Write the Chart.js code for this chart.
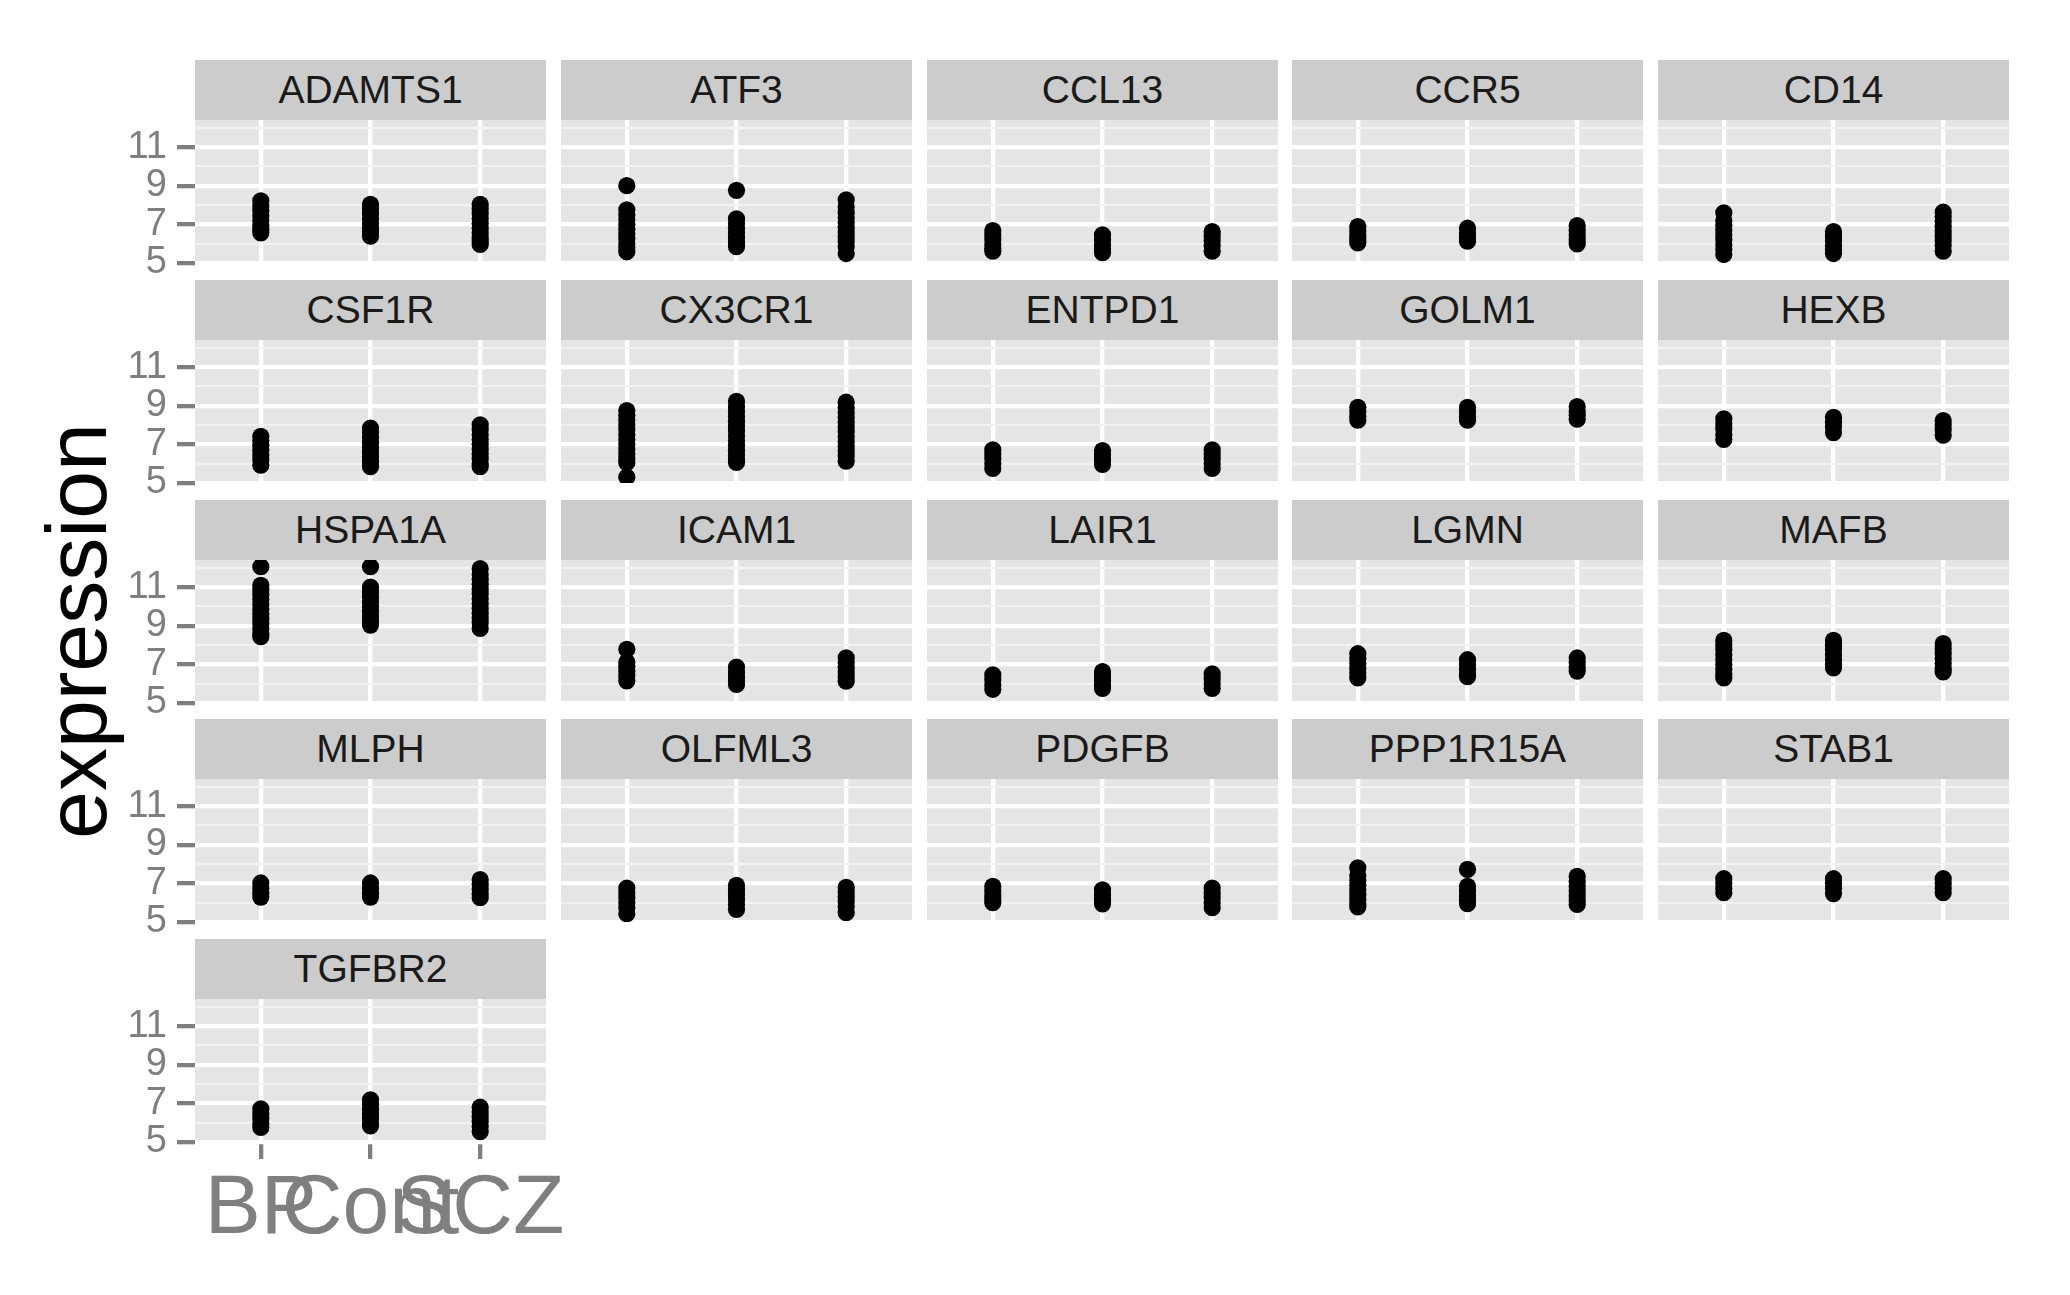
<!DOCTYPE html>
<html>
<head>
<meta charset="utf-8">
<script src="https://cdn.jsdelivr.net/npm/chart.js@4"></script>
<style>
  html, body { margin: 0; padding: 0; background: #ffffff; }
  body { width: 2070px; height: 1295px; position: relative; overflow: hidden;
         font-family: "Liberation Sans", Arial, Helvetica, sans-serif; }
  .strip { position: absolute; background: #cccccc; color: #1a1a1a; font-size: 39px;
           display: flex; align-items: center; justify-content: center; white-space: nowrap; }
  .holder { position: absolute; }
  #ytitle { position: absolute; left: 76px; top: 631px; transform: translate(-50%, -50%) rotate(-90deg);
            font-size: 86px; line-height: 95px; white-space: nowrap; color: #000000; }
</style>
</head>
<body>
<div id="ytitle">expression</div>
<script>
// ---------------- data ----------------
const genes = ['ADAMTS1','ATF3','CCL13','CCR5','CD14','CSF1R','CX3CR1','ENTPD1','GOLM1','HEXB',
               'HSPA1A','ICAM1','LAIR1','LGMN','MAFB','MLPH','OLFML3','PDGFB','PPP1R15A','STAB1','TGFBR2'];
const groups = ['BP', 'Cont', 'SCZ'];
const yTicks = [5, 7, 9, 11];
const yMinorTicks = [6, 8, 10, 12];

const bpValues = [
  [8.22,7.95,7.7,7.45,7.2,6.95,6.75,6.56],
  [9.0,7.75,7.5,7.25,7.0,6.75,6.5,6.25,6.0,5.8,5.58],
  [6.68,6.45,6.2,5.95,5.75,5.61],
  [6.89,6.65,6.4,6.2,6.04],
  [7.6,7.2,6.95,6.7,6.45,6.2,5.95,5.7,5.44],
  [7.42,7.2,6.95,6.7,6.45,6.2,5.92],
  [8.75,8.5,8.25,8.0,7.75,7.5,7.25,7.0,6.75,6.5,6.25,6.05,5.3],
  [6.72,6.5,6.25,6.0,5.75],
  [8.92,8.7,8.45,8.25],
  [8.32,8.05,7.8,7.5,7.25],
  [12.05,11.09,10.85,10.6,10.35,10.1,9.85,9.6,9.35,9.1,8.85,8.6,8.43],
  [7.78,7.11,6.9,6.65,6.4,6.14],
  [6.46,6.2,5.95,5.71],
  [7.55,7.3,7.05,6.8,6.55,6.3],
  [8.24,8.0,7.75,7.5,7.25,7.0,6.75,6.5,6.3],
  [7.02,6.75,6.5,6.29],
  [6.76,6.5,6.25,6.0,5.75,5.43],
  [6.85,6.6,6.35,6.15,6.0],
  [7.8,7.4,7.15,6.9,6.65,6.4,6.15,5.95,5.78],
  [7.24,7.0,6.75,6.52],
  [6.71,6.45,6.2,5.95,5.75]
];
const contValues = [
  [8.04,7.8,7.55,7.3,7.05,6.8,6.6,6.39],
  [8.76,7.28,7.05,6.8,6.55,6.3,6.05,5.84],
  [6.46,6.2,5.95,5.75,5.53],
  [6.8,6.55,6.3,6.13],
  [6.63,6.4,6.15,5.9,5.7,5.49],
  [7.84,7.6,7.35,7.1,6.85,6.6,6.35,6.1,5.84],
  [9.22,8.95,8.7,8.45,8.2,7.95,7.7,7.45,7.2,6.95,6.7,6.45,6.2,6.06],
  [6.68,6.45,6.2,5.96],
  [8.92,8.7,8.45,8.25],
  [8.4,8.15,7.9,7.61],
  [12.05,11.0,10.75,10.5,10.25,10.0,9.75,9.5,9.25,9.03],
  [6.86,6.6,6.35,6.15,5.96],
  [6.63,6.4,6.15,5.95,5.75],
  [7.24,7.0,6.75,6.5,6.36],
  [8.24,8.0,7.75,7.5,7.25,7.0,6.82],
  [7.02,6.75,6.5,6.29],
  [6.9,6.65,6.4,6.15,5.9,5.65],
  [6.67,6.4,6.15,5.94],
  [7.72,6.85,6.6,6.35,6.1,5.95],
  [7.24,7.0,6.75,6.47],
  [7.18,6.95,6.7,6.45,6.2,5.95,5.83]
];
const sczValues = [
  [8.04,7.8,7.55,7.3,7.05,6.8,6.55,6.3,6.1,5.96],
  [8.27,7.9,7.6,7.35,7.1,6.85,6.6,6.35,6.1,5.85,5.49],
  [6.63,6.4,6.15,5.9,5.61],
  [6.94,6.7,6.45,6.2,5.99],
  [7.63,7.4,7.15,6.9,6.65,6.4,6.15,5.9,5.61],
  [8.01,7.75,7.5,7.25,7.0,6.75,6.5,6.25,6.0,5.84],
  [9.18,8.9,8.65,8.4,8.15,7.9,7.65,7.4,7.15,6.9,6.65,6.4,6.13],
  [6.72,6.5,6.25,6.0,5.75],
  [8.96,8.7,8.5,8.3],
  [8.23,8.0,7.75,7.47],
  [11.95,11.65,11.4,11.15,10.9,10.65,10.4,10.15,9.9,9.65,9.4,9.15,8.86],
  [7.34,7.1,6.85,6.6,6.35,6.13],
  [6.51,6.25,6.0,5.75],
  [7.33,7.1,6.85,6.65],
  [8.07,7.8,7.55,7.3,7.05,6.8,6.61],
  [7.19,6.95,6.7,6.45,6.26],
  [6.79,6.55,6.3,6.05,5.8,5.48],
  [6.76,6.5,6.25,6.0,5.74],
  [7.36,7.1,6.85,6.6,6.35,6.1,5.91],
  [7.24,7.0,6.75,6.52],
  [6.8,6.55,6.3,6.05,5.8,5.54]
];

// ---------------- layout ----------------
const COL_X = [195, 561, 927, 1292, 1658];
const ROW_Y = [60, 280, 500, 719, 939];
const PANEL_W = 351, STRIP_H = 60, PLOT_H = 143;
const YAXIS_W = 95, XAXIS_H = 150, PAD_T = 36, PAD_B = 36, PAD_R = 30;
const NCOL = 5;
const lastRow = Math.floor((genes.length - 1) / NCOL);

Chart.defaults.font.family = '"Liberation Sans", Arial, Helvetica, sans-serif';

const bgPlugin = {
  id: 'panelBg',
  beforeDraw(chart) {
    const { ctx, chartArea: a } = chart;
    ctx.save();
    ctx.fillStyle = '#e5e5e5';
    ctx.fillRect(a.left, a.top, a.right - a.left, a.bottom - a.top);
    ctx.restore();
  }
};

const allY = [...yTicks, ...yMinorTicks].sort((a, b) => a - b);
const isMajor = ctx => ctx.tick && yTicks.includes(ctx.tick.value);

genes.forEach((gene, i) => {
  const r = Math.floor(i / NCOL), c = i % NCOL;
  const isLeft = c === 0;
  const isBottom = r === lastRow;
  const plotLeft = COL_X[c], plotTop = ROW_Y[r] + STRIP_H;

  const L = isLeft ? YAXIS_W : 0;
  const B = isBottom ? XAXIS_H : PAD_B;
  const holder = document.createElement('div');
  holder.className = 'holder';
  holder.style.left = (plotLeft - L) + 'px';
  holder.style.top = (plotTop - PAD_T) + 'px';
  holder.style.width = (L + PANEL_W + PAD_R) + 'px';
  holder.style.height = (PAD_T + PLOT_H + B) + 'px';
  const canvas = document.createElement('canvas');
  holder.appendChild(canvas);
  document.body.appendChild(holder);

  const strip = document.createElement('div');
  strip.className = 'strip';
  strip.style.left = COL_X[c] + 'px';
  strip.style.top = ROW_Y[r] + 'px';
  strip.style.width = PANEL_W + 'px';
  strip.style.height = STRIP_H + 'px';
  strip.textContent = gene;
  document.body.appendChild(strip);

  const pts = [];
  [bpValues[i], contValues[i], sczValues[i]].forEach((vals, g) => {
    vals.forEach(v => pts.push({ x: g + 1, y: v }));
  });

  new Chart(canvas, {
    type: 'scatter',
    data: { datasets: [{ data: pts, backgroundColor: '#000000', borderWidth: 0,
                         pointRadius: 8.6, pointHoverRadius: 8.6, clip: 0 }] },
    options: {
      responsive: true, maintainAspectRatio: false, animation: false, events: [],
      layout: { autoPadding: false,
                padding: { left: 0, right: PAD_R, top: PAD_T, bottom: isBottom ? 0 : PAD_B } },
      plugins: { legend: { display: false }, tooltip: { enabled: false } },
      scales: {
        x: {
          type: 'linear', position: 'bottom', min: 0.4, max: 3.6,
          afterBuildTicks: s => { s.ticks = groups.map((_, k) => ({ value: k + 1 })); },
          afterFit: s => { s.height = isBottom ? XAXIS_H : 0; },
          ticks: { display: isBottom, autoSkip: false, maxRotation: 0, minRotation: 0, padding: 0,
                   color: '#7f7f7f', font: { size: 84 },
                   callback: v => groups[Math.round(v) - 1] || '' },
          grid: { color: '#ffffff', lineWidth: 4.3, drawTicks: isBottom, tickLength: 17,
                  tickColor: '#7f7f7f', tickWidth: 4.3 },
          border: { display: false }
        },
        y: {
          type: 'linear', position: 'left', min: 5, max: 12.4,
          afterBuildTicks: s => { s.ticks = allY.map(v => ({ value: v })); },
          afterFit: s => { s.width = L; },
          ticks: { display: isLeft, autoSkip: false, padding: 10, color: '#7f7f7f', font: { size: 38 },
                   callback: v => yTicks.includes(v) ? String(v) : '' },
          grid: { color: ctx => isMajor(ctx) ? '#ffffff' : '#f2f2f2',
                  lineWidth: ctx => isMajor(ctx) ? 4.3 : 2,
                  drawTicks: isLeft, tickLength: 18,
                  tickColor: ctx => isMajor(ctx) ? '#7f7f7f' : 'rgba(0,0,0,0)',
                  tickWidth: 4.3 },
          border: { display: false }
        }
      }
    },
    plugins: [bgPlugin]
  });
});
</script>
</body>
</html>
